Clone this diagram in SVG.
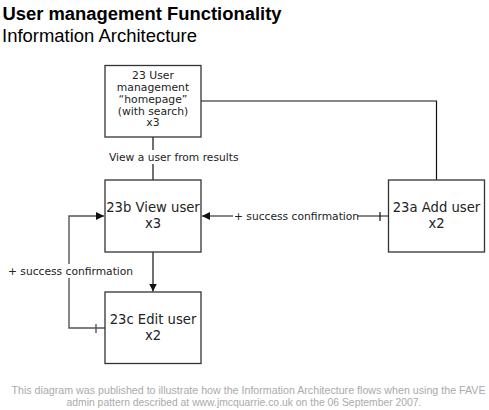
<svg xmlns="http://www.w3.org/2000/svg" width="489" height="410" viewBox="0 0 489 410">
<style>
.box{fill:#fff;stroke:#333;stroke-width:1.3}
.bt{font-family:"DejaVu Sans",Verdana,sans-serif;font-size:13.2px;fill:#222;text-anchor:middle}
.st{font-family:"DejaVu Sans",Verdana,sans-serif;font-size:10.8px;fill:#222;text-anchor:middle}
.lb{font-family:"DejaVu Sans",Verdana,sans-serif;font-size:10.7px;fill:#222}
.ln{fill:none;stroke:#111;stroke-width:1.2}
.ln2{fill:none;stroke:#555;stroke-width:1.4}
.title{font-family:"Liberation Sans",Arial,sans-serif;font-size:18.3px;font-weight:bold;fill:#000}
.sub{font-family:"Liberation Sans",Arial,sans-serif;font-size:18.3px;fill:#000}
.foot{font-family:"Liberation Sans",Arial,sans-serif;font-size:10.6px;fill:#aaa}
</style>
<defs>
<marker id="arr" viewBox="0 0 10 10" refX="10" refY="5" markerWidth="8" markerHeight="8" markerUnits="userSpaceOnUse" orient="auto">
<path d="M0,0 L10,5 L0,10 z" fill="#111"/>
</marker>
</defs>
<rect width="489" height="410" fill="#fff"/>
<text class="title" x="2.5" y="20" textLength="279" lengthAdjust="spacingAndGlyphs">User management Functionality</text>
<text class="sub" x="2" y="41.5" textLength="195" lengthAdjust="spacingAndGlyphs">Information Architecture</text>

<g id="connectors">
<path class="ln" d="M201,101 H436.5 V180"/>
<path class="ln" d="M153,137 V180"/>
<rect x="108" y="150" width="132" height="14" fill="#fff"/>
<text class="lb" x="109" y="161">View a user from results</text>
<path class="ln" d="M388,216 H202" marker-end="url(#arr)"/>
<path class="ln" d="M380,212 V221"/>
<rect x="233" y="209" width="124" height="14" fill="#fff"/>
<text class="lb" x="234" y="219.5">+ success confirmation</text>
<path class="ln" d="M153,252 V291.5" marker-end="url(#arr)"/>
<path class="ln2" d="M105,328 H69 V216 H104" marker-end="url(#arr)"/>
<path class="ln2" d="M96,324 V333"/>
<rect x="7" y="264" width="124" height="14" fill="#fff"/>
<text class="lb" x="8" y="274.5">+ success confirmation</text>
</g>

<g id="node-23">
<rect class="box" x="105" y="65.5" width="96" height="71.5"/>
<text class="st" x="153" y="79.3">23 User</text>
<text class="st" x="153" y="91.2">management</text>
<text class="st" x="153" y="102.8">“homepage”</text>
<text class="st" x="153" y="114.5">(with search)</text>
<text class="st" x="153" y="126.3">x3</text>
</g>

<g id="node-23b">
<rect class="box" x="105" y="180" width="96" height="72"/>
<text class="bt" x="153" y="211.5">23b View user</text>
<text class="bt" x="153" y="228">x3</text>
</g>

<g id="node-23a">
<rect class="box" x="388.5" y="180" width="96" height="72"/>
<text class="bt" x="436.5" y="211.5">23a Add user</text>
<text class="bt" x="436.5" y="228">x2</text>
</g>

<g id="node-23c">
<rect class="box" x="105" y="292" width="96" height="71.5"/>
<text class="bt" x="153" y="323.5">23c Edit user</text>
<text class="bt" x="153" y="340">x2</text>
</g>

<text class="foot" x="11.5" y="394" textLength="474" lengthAdjust="spacingAndGlyphs">This diagram was published to illustrate how the Information Architecture flows when using the FAVE</text>
<text class="foot" x="66.5" y="406" textLength="355" lengthAdjust="spacingAndGlyphs">admin pattern described at www.jmcquarrie.co.uk on the 06 September 2007.</text>
</svg>
